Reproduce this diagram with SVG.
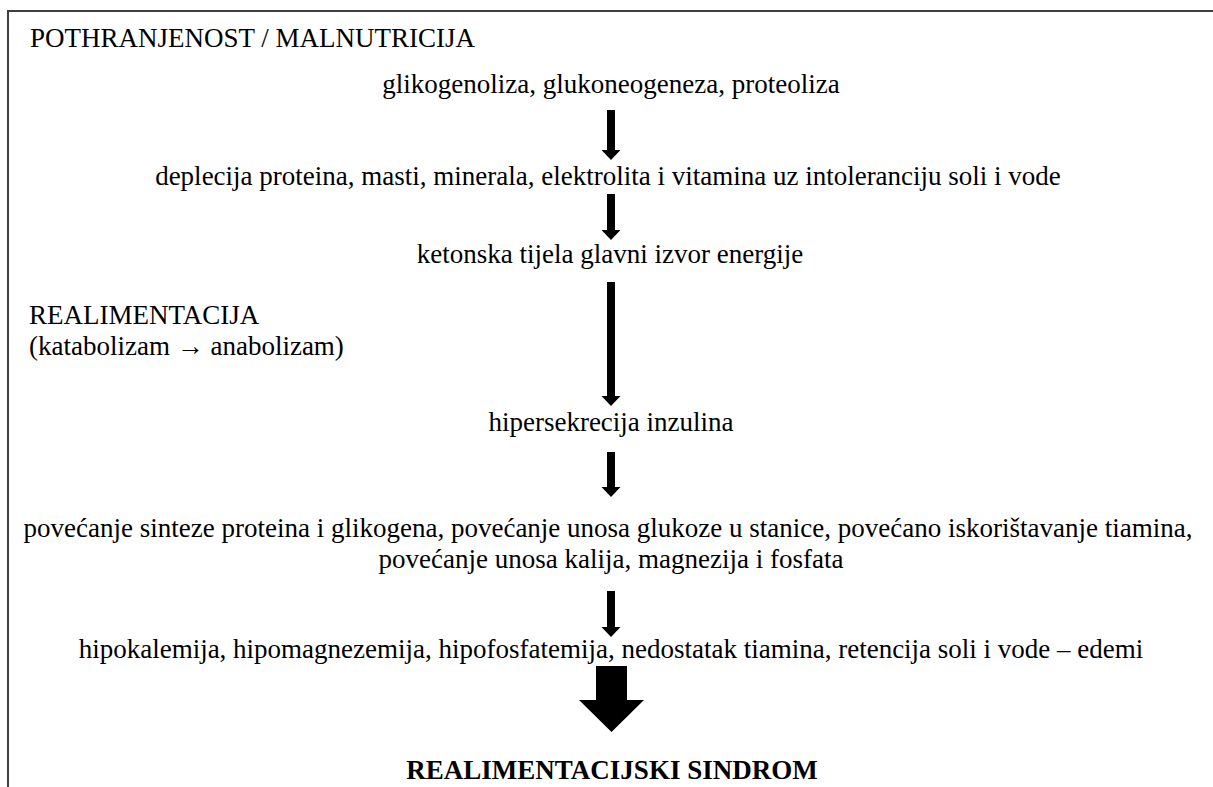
<svg xmlns="http://www.w3.org/2000/svg" width="1213" height="787" viewBox="0 0 1213 787">
<defs>
<style>
.c{text-anchor:middle}
.b{font-weight:bold;font-size:27px}
.ar{fill:#000}
.frame{stroke:#404040;stroke-width:2;fill:none}
</style>
</defs>
<rect width="1213" height="787" fill="#fff"/>
<g id="frame"><path class="frame" d="M8,787 V11 H1213"/></g>
<g font-family="Liberation Serif, Times New Roman, serif" font-size="27" fill="#000">
<g id="n-pothranjenost"><text x="30" y="47">POTHRANJENOST / MALNUTRICIJA</text></g>
<g id="n-glikogenoliza"><text class="c" x="611" y="93">glikogenoliza, glukoneogeneza, proteoliza</text></g>
<g id="n-deplecija"><text class="c" x="608" y="185">deplecija proteina, masti, minerala, elektrolita i vitamina uz intoleranciju soli i vode</text></g>
<g id="n-ketonska"><text class="c" x="610" y="263">ketonska tijela glavni izvor energije</text></g>
<g id="n-realimentacija"><text x="29" y="324">REALIMENTACIJA</text><text x="29" y="355">(katabolizam → anabolizam)</text></g>
<g id="n-hipersekrecija"><text class="c" x="611" y="431">hipersekrecija inzulina</text></g>
<g id="n-povecanje"><text class="c" x="608" y="537">povećanje sinteze proteina i glikogena, povećanje unosa glukoze u stanice, povećano iskorištavanje tiamina,</text><text class="c" x="611" y="568">povećanje unosa kalija, magnezija i fosfata</text></g>
<g id="n-hipokalemija"><text class="c" x="611" y="658">hipokalemija, hipomagnezemija, hipofosfatemija, nedostatak tiamina, retencija soli i vode – edemi</text></g>
<g id="n-sindrom"><text class="c b" x="612" y="779">REALIMENTACIJSKI SINDROM</text></g>
</g>
<g id="connectors">
<path class="ar" d="M607,110 H615 V150 H620.5 L611,160 L601.5,150 H607 Z"/>
<path class="ar" d="M607,194 H615 V230 H620.5 L611,240 L601.5,230 H607 Z"/>
<path class="ar" d="M607,282 H615 V396 H620.5 L611,406 L601.5,396 H607 Z"/>
<path class="ar" d="M607,452 H615 V487 H620.5 L611,497 L601.5,487 H607 Z"/>
<path class="ar" d="M607,591 H615 V627 H620.5 L611,637 L601.5,627 H607 Z"/>
<path class="ar" d="M596,666 H627 V700 H644 L611.5,732 L579,700 H596 Z"/>
</g>
</svg>
